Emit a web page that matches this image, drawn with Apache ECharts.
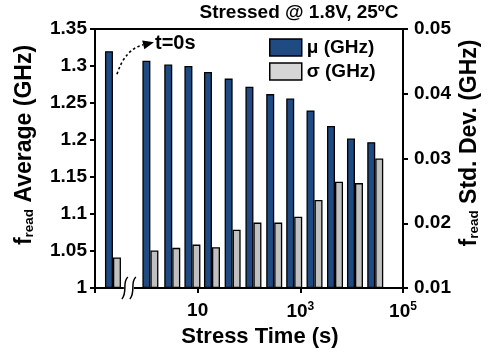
<!DOCTYPE html>
<html>
<head>
<meta charset="utf-8">
<script src="https://cdn.jsdelivr.net/npm/echarts@6/dist/echarts.min.js"></script>
<style>
html,body{margin:0;padding:0;background:#fff;}
#chart{width:491px;height:353px;}
</style>
</head>
<body>
<div id="chart"></div>
<script>
// ---- data ----
const stressTimes = [0, 1.2, 3.2, 7.9, 19, 48, 122, 310, 760, 1890, 4740, 11600, 28800]; // seconds
const muGHz    = [1.320, 1.307, 1.302, 1.300, 1.292, 1.283, 1.272, 1.262, 1.256, 1.240, 1.219, 1.202, 1.197];
const sigmaGHz = [0.0147, 0.0158, 0.0162, 0.0167, 0.0163, 0.0190, 0.0201, 0.0201, 0.0210, 0.0236, 0.0264, 0.0262, 0.0300];
const xTickExponents = [-1, 1, 3, 5];
const leftTicks = [1, 1.05, 1.1, 1.15, 1.2, 1.25, 1.3, 1.35];
const rightTicks = [0.01, 0.02, 0.03, 0.04, 0.05];
const seriesNames = ['μ (GHz)', 'σ (GHz)'];
// where the broken axis puts t = 0 (in decades)
const ZERO_TIME_POS = -0.65;

const FONT = 'Liberation Sans, Arial, sans-serif';
const BLUE = '#1f4a82';
const GRAY = '#c0c0c0';

const xPos = t => t === 0 ? ZERO_TIME_POS : Math.log10(t);
const muData = stressTimes.map((t, i) => [xPos(t), muGHz[i]]);
const sigmaData = stressTimes.map((t, i) => [xPos(t), sigmaGHz[i]]);

const chart = echarts.init(document.getElementById('chart'), null, {renderer: 'canvas'});

const axisCommon = {
  axisLine: {show: true, onZero: false, lineStyle: {color: '#000', width: 2}},
  axisTick: {show: true, length: 5, lineStyle: {color: '#000', width: 2}},
  splitLine: {show: false}
};

chart.setOption({
  animation: false,
  tooltip: {show: false},
  textStyle: {fontFamily: FONT},
  grid: {left: 95, right: 88, top: 29, bottom: 65, show: true, borderColor: '#000', borderWidth: 2, containLabel: false},
  legend: {
    orient: 'vertical', left: 269, top: 38, padding: 0, itemGap: 5,
    itemWidth: 32, itemHeight: 17,
    textStyle: {fontFamily: FONT, fontWeight: 'bold', fontSize: 19, color: '#000'},
    data: [
      {name: seriesNames[0], icon: 'rect', itemStyle: {color: BLUE, borderColor: '#000', borderWidth: 1.5}},
      {name: seriesNames[1], icon: 'rect', itemStyle: {color: '#d6d6d6', borderColor: '#000', borderWidth: 1.5}}
    ]
  },
  xAxis: Object.assign({}, axisCommon, {
    type: 'value', min: xTickExponents[0], max: xTickExponents[xTickExponents.length - 1], interval: 2,
    axisLabel: {
      margin: 13, color: '#000', fontFamily: FONT, fontWeight: 'bold', fontSize: 19,
      formatter: v => {
        if (v === xTickExponents[0]) return '';
        if (v === 1) return '{b|10}';
        return '{b|10}{s|' + v + '}';
      },
      rich: {
        b: {fontFamily: FONT, fontWeight: 'bold', fontSize: 19, color: '#000'},
        s: {fontFamily: FONT, fontWeight: 'bold', fontSize: 12, color: '#000', padding: [0, 0, 9, 0]}
      }
    }
  }),
  yAxis: [
    Object.assign({}, axisCommon, {
      type: 'value', min: leftTicks[0], max: leftTicks[leftTicks.length - 1], interval: 0.05, startValue: leftTicks[0],
      axisLabel: {margin: 8, color: '#000', fontFamily: FONT, fontWeight: 'bold', fontSize: 19,
        formatter: v => String(parseFloat(v.toFixed(2)))}
    }),
    Object.assign({}, axisCommon, {
      type: 'value', position: 'right', min: rightTicks[0], max: rightTicks[rightTicks.length - 1], interval: 0.01, startValue: rightTicks[0],
      axisLabel: {margin: 11, color: '#000', fontFamily: FONT, fontWeight: 'bold', fontSize: 19,
        formatter: v => v.toFixed(2)}
    })
  ],
  series: [
    {name: seriesNames[0], type: 'bar', yAxisIndex: 0, data: muData, barWidth: 8, barGap: '0%',
      itemStyle: {color: BLUE, borderColor: '#000', borderWidth: 1.3}},
    {name: seriesNames[1], type: 'bar', yAxisIndex: 1, data: sigmaData, barWidth: 8, barGap: '0%',
      itemStyle: {color: GRAY, borderColor: '#000', borderWidth: 1.3}}
  ]
});

// ---- annotations (anchored through the axes) ----
const px = (x, y) => chart.convertToPixel({gridIndex: 0}, [x, y]);
const firstBarTop = px(xPos(stressTimes[0]), muGHz[0]);   // top of the t=0 bar
const S = [firstBarTop[0] + 4, firstBarTop[1] + 23];       // arrow start (near bar top)
const T = [firstBarTop[0] + 41, firstBarTop[1] - 9];       // arrow tip
const C = [firstBarTop[0] + 12, firstBarTop[1] - 2];       // curve control
let dx = T[0] - C[0], dy = T[1] - C[1];
const len = Math.hypot(dx, dy); dx /= len; dy /= len;
const headLen = 11, headHalf = 4.5;
const B = [T[0] - dx * headLen, T[1] - dy * headLen];
const H1 = [B[0] - dy * headHalf, B[1] + dx * headHalf];
const H2 = [B[0] + dy * headHalf, B[1] - dx * headHalf];
const textX = T[0] + 1, textY = T[1] + 1;
const brk = px(-0.34, 1)[0];
const axisY = px(0, 1)[1];

const graphics = [
  {type: 'text', style: {text: 'Stressed @ 1.8V, 25ºC', x: 299, y: 13, textAlign: 'center', textVerticalAlign: 'middle',
    font: 'bold 19px ' + FONT, fill: '#000'}},
  {type: 'text', rotation: Math.PI / 2, x: 25, y: 145,
    style: {text: '{b|f}{s|read}{b| Average (GHz)}', textAlign: 'center', textVerticalAlign: 'middle',
      rich: {b: {font: 'bold 23px ' + FONT, fill: '#000', verticalAlign: 'bottom'},
             s: {font: 'bold 13.5px ' + FONT, fill: '#000', verticalAlign: 'bottom'}}}},
  {type: 'text', rotation: Math.PI / 2, x: 470, y: 143,
    style: {text: '{b|f}{s|read}{b| Std. Dev. (GHz)}', textAlign: 'center', textVerticalAlign: 'middle',
      rich: {b: {font: 'bold 23px ' + FONT, fill: '#000', verticalAlign: 'bottom'},
             s: {font: 'bold 13.5px ' + FONT, fill: '#000', verticalAlign: 'bottom'}}}},
  {type: 'text', style: {text: 'Stress Time (s)', x: 260, y: 337, textAlign: 'center', textVerticalAlign: 'middle',
    font: 'bold 22px ' + FONT, fill: '#000'}},
  {type: 'text', style: {text: 't=0s', x: textX, y: textY, textAlign: 'left', textVerticalAlign: 'middle',
    font: 'bold 20px ' + FONT, fill: '#000'}},
  {type: 'bezierCurve', shape: {x1: S[0], y1: S[1], cpx1: C[0], cpy1: C[1], x2: B[0], y2: B[1]},
    style: {stroke: '#000', lineWidth: 1.6, lineDash: [2.5, 2.5], fill: null}},
  {type: 'polygon', shape: {points: [T, H1, H2]}, style: {fill: '#000'}},
  {type: 'rect', shape: {x: brk - 5, y: axisY - 3, width: 10, height: 6}, style: {fill: '#fff'}, z: 100},
  {type: 'bezierCurve', z: 101, shape: {x1: brk - 7, y1: axisY + 11, cpx1: brk - 1, cpy1: axisY + 4, cpx2: brk - 7, cpy2: axisY - 6, x2: brk - 1, y2: axisY - 11},
    style: {stroke: '#000', lineWidth: 1.5, fill: null}},
  {type: 'bezierCurve', z: 101, shape: {x1: brk + 1, y1: axisY + 11, cpx1: brk + 7, cpy1: axisY + 4, cpx2: brk + 1, cpy2: axisY - 6, x2: brk + 7, y2: axisY - 11},
    style: {stroke: '#000', lineWidth: 1.5, fill: null}}
];
chart.setOption({graphic: graphics});
</script>
</body>
</html>
